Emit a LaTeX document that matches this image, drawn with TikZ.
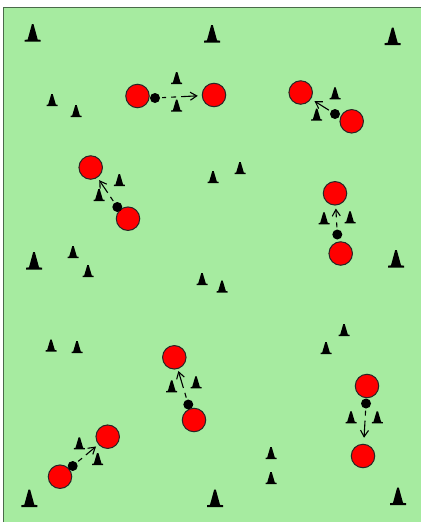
\documentclass[tikz,border=0pt]{standalone}
\usetikzlibrary{arrows.meta}
\definecolor{fieldgreen}{HTML}{A6EBA0}
\definecolor{fieldedge}{HTML}{4A6A4A}
\tikzset{
  x=1pt,y=-1pt,
  player/.style={circle,draw=black!85,line width=1pt,fill=red,minimum size=23.5pt,inner sep=0pt},
  ball/.style={circle,fill=black,minimum size=10pt,inner sep=0pt},
  run/.style={-{Straight Barb[length=6.5pt,width=8pt]},line width=1.1pt,black,shorten <=2pt,shorten >=3pt},
  runone/.style={run,dash pattern=on 5pt off 5pt on 100pt off 0pt},
  runtwo/.style={run,dash pattern=on 4pt off 5pt on 5pt off 5pt on 100pt off 0pt},
  conebig/.pic={\fill[black] (-8,0) -- (-8,-1.8) -- (-5,-2.2) -- (-0.8,-17.5) -- (0.8,-17.5) -- (5,-2.2) -- (8,-1.8) -- (8,0) -- cycle;},
  conesmall/.pic={\fill[black] (-5.5,0) -- (-5.5,-1.2) -- (-3.8,-1.5) -- (-0.7,-12) -- (0.7,-12) -- (3.8,-1.5) -- (5.5,-1.2) -- (5.5,0) -- cycle;}
}
\begin{document}
\begin{tikzpicture}
\useasboundingbox (0,0) rectangle (421,522);
\fill[white] (0,0) rectangle (421,522);
\fill[fieldgreen] (3,7) rectangle (421,522);
\draw[fieldedge,line width=0.8pt] (3.2,522) -- (3.2,7.2) -- (421,7.2);
\foreach \x/\y in {32.7/41.7,212/42.5,392.7/45,34/269.5,396/267.5,29.3/507,215/507,398/505}
  \pic at (\x,\y) {conebig};
\foreach \x/\y in {52/106,76/117,176.7/84,176.7/111.7,335/99.3,316.7/120.7,119.3/186,99/201,213/183,240/174,350/223.3,324/224.3,73/258,88/277,202/285,222/292.5,344/336,326/354,51/351.5,77/353,171.7/392.3,196/388.3,351/423.3,377.3/423.3,79.3/449.3,97.7/465,271/459,271/484}
  \pic at (\x,\y) {conesmall};
\node[player] (a1) at (137.5,96) {};
\node[player] (a2) at (214,95) {};
\node[ball]   (ab) at (155,98) {};
\node[player] (b1) at (300.7,92.5) {};
\node[player] (b2) at (351.7,121.3) {};
\node[ball]   (bb) at (335,114) {};
\node[player] (c1) at (90.7,167.5) {};
\node[player] (c2) at (128,218.7) {};
\node[ball]   (cb) at (117.3,207) {};
\node[player] (d1) at (335,193.3) {};
\node[player] (d2) at (340.7,253.5) {};
\node[ball]   (db) at (337.3,234.5) {};
\node[player] (e1) at (174.3,357.3) {};
\node[player] (e2) at (194,420) {};
\node[ball]   (eb) at (188.3,404.5) {};
\node[player] (f1) at (367,386) {};
\node[player] (f2) at (363,456) {};
\node[ball]   (fb) at (366,403.5) {};
\node[player] (g1) at (107.7,436.7) {};
\node[player] (g2) at (60,476.7) {};
\node[ball]   (gb) at (72.7,466) {};
\draw[runtwo,shorten >=4pt] (ab) -- (a2);
\draw[run,shorten >=4pt] (bb) -- (b1);
\draw[runone] (cb) -- (c1);
\draw[runone] (db) -- (d1);
\draw[runone,shorten >=2pt] (eb) -- (e1);
\draw[runone,shorten >=6pt] (fb) -- (f2);
\draw[runone] (gb) -- (g1);
\end{tikzpicture}
\end{document}
